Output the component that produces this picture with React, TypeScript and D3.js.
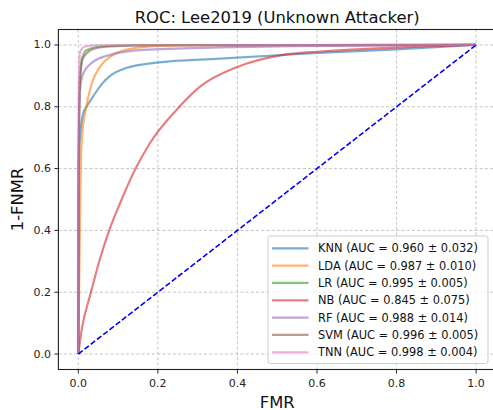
import React from "react";
import * as d3 from "d3";

const W = 493;
const H = 410;

const seriesNames = ["KNN", "LDA", "LR", "NB", "RF", "SVM", "TNN"];
const seriesColors = ["#1f77b4", "#ff7f0e", "#2ca02c", "#d62728", "#9467bd", "#8c564b", "#e377c2"];
const aucLabels = [
  "KNN (AUC = 0.960 ± 0.032)",
  "LDA (AUC = 0.987 ± 0.010)",
  "LR (AUC = 0.995 ± 0.005)",
  "NB (AUC = 0.845 ± 0.075)",
  "RF (AUC = 0.988 ± 0.014)",
  "SVM (AUC = 0.996 ± 0.005)",
  "TNN (AUC = 0.998 ± 0.004)",
];

const knnPts: [number, number][] = [
  [0, 0], [0.001, 0.5], [0.003, 0.68], [0.0126, 0.78], [0.021, 0.8], [0.038, 0.835],
  [0.06, 0.875], [0.08, 0.9], [0.122, 0.926], [0.197, 0.943], [0.356, 0.956],
  [0.6, 0.974], [0.8, 0.986], [1, 1],
];
const ldaPts: [number, number][] = [
  [0, 0], [0.003, 0.3], [0.005, 0.5], [0.007, 0.65], [0.012, 0.74], [0.017, 0.78],
  [0.025, 0.83], [0.034, 0.876], [0.055, 0.93], [0.088, 0.968], [0.138, 0.989],
  [0.205, 0.997], [0.3, 0.999], [1, 1],
];
const lrPts: [number, number][] = [
  [0, 0], [0.001, 0.6], [0.003, 0.86], [0.0085, 0.951], [0.021, 0.984], [0.055, 0.995],
  [0.15, 0.999], [1, 1],
];
const nbPts: [number, number][] = [
  [0, 0], [0.0085, 0.078], [0.031, 0.196], [0.055, 0.31], [0.078, 0.401],
  [0.105, 0.488], [0.142, 0.595], [0.18, 0.682], [0.247, 0.79], [0.306, 0.865],
  [0.398, 0.928], [0.515, 0.968], [0.6, 0.978], [0.808, 0.992], [1, 1],
];
const rfPts: [number, number][] = [
  [0, 0], [0.001, 0.6], [0.004, 0.85], [0.0126, 0.908], [0.038, 0.946], [0.08, 0.968],
  [0.163, 0.984], [0.356, 0.992], [0.54, 0.996], [1, 1],
];
const svmPts: [number, number][] = [
  [0, 0], [0.001, 0.6], [0.004, 0.88], [0.012, 0.958], [0.038, 0.987], [0.08, 0.995],
  [0.2, 0.999], [1, 1],
];
const tnnPts: [number, number][] = [
  [0, 0], [0.001, 0.8], [0.004, 0.974], [0.01, 0.99], [0.017, 0.995], [0.05, 0.999], [1, 1],
];
const allSeries = [knnPts, ldaPts, lrPts, nbPts, rfPts, svmPts, tnnPts];

const tickValues = [0, 0.2, 0.4, 0.6, 0.8, 1.0];
const diagonal: [number, number][] = [[0, 0], [1, 1]];

const titleText = "ROC: Lee2019 (Unknown Attacker)";
const xLabel = "FMR";
const yLabel = "1-FNMR";

export default function App() {
  const left = 58.4, right = 496, top = 29.5, bottom = 369.5;
  const x = d3.scaleLinear().domain([-0.05, 1.05]).range([left, right]);
  const y = d3.scaleLinear().domain([-0.05, 1.05]).range([bottom, top]);
  const line = d3
    .line<[number, number]>()
    .x((d) => x(d[0]))
    .y((d) => y(d[1]))
    .curve(d3.curveMonotoneX);
  const straight = d3
    .line<[number, number]>()
    .x((d) => x(d[0]))
    .y((d) => y(d[1]));
  const fmt = d3.format(".1f");
  const font = "DejaVu Sans, sans-serif";

  const legX = 268, legY = 236, legW = 220, legH = 127.5;
  const row0 = 248.3, rowH = 17.33;

  return (
    <svg
      width={W}
      height={H}
      viewBox={`0 0 ${W} ${H}`}
      style={{ position: "absolute", left: 0, top: 0, background: "#fff" }}
      fontFamily={font}
    >
      <rect x={0} y={0} width={W} height={H} fill="#fff" />
      <defs>
        <clipPath id="plotclip">
          <rect x={left} y={top} width={right - left} height={bottom - top} />
        </clipPath>
      </defs>
      {/* grid */}
      <g stroke="#b0b0b0" strokeWidth={0.8} strokeDasharray="3,2.2" opacity={0.9}>
        {tickValues.map((t) => (
          <line key={"gx" + t} x1={x(t)} x2={x(t)} y1={top} y2={bottom} />
        ))}
        {tickValues.map((t) => (
          <line key={"gy" + t} x1={left} x2={right} y1={y(t)} y2={y(t)} />
        ))}
      </g>
      {/* curves */}
      <g clipPath="url(#plotclip)" fill="none">
        {allSeries.map((pts, i) => (
          <path
            key={seriesNames[i]}
            d={line(pts) || ""}
            stroke={seriesColors[i]}
            strokeOpacity={0.6}
            strokeWidth={2.2}
            strokeLinejoin="round"
            strokeLinecap="butt"
          />
        ))}
        <path
          d={straight(diagonal) || ""}
          stroke="#0000ff"
          strokeWidth={1.6}
          strokeDasharray="5.5,2.4"
        />
      </g>
      {/* spines */}
      <rect
        x={left}
        y={top}
        width={right - left}
        height={bottom - top}
        fill="none"
        stroke="#222"
        strokeWidth={1.1}
      />
      {/* x ticks */}
      {tickValues.map((t) => (
        <g key={"xt" + t}>
          <line x1={x(t)} x2={x(t)} y1={bottom} y2={bottom + 4} stroke="#222" strokeWidth={1} />
          <text x={x(t)} y={bottom + 14} fontSize={11} textAnchor="middle" dominantBaseline="central" fill="#222">
            {fmt(t)}
          </text>
        </g>
      ))}
      {/* y ticks */}
      {tickValues.map((t) => (
        <g key={"yt" + t}>
          <line x1={left - 4} x2={left} y1={y(t)} y2={y(t)} stroke="#222" strokeWidth={1} />
          <text x={left - 7.5} y={y(t)} fontSize={11} textAnchor="end" dominantBaseline="central" fill="#222">
            {fmt(t)}
          </text>
        </g>
      ))}
      {/* labels */}
      <text x={(left + right) / 2} y={402} fontSize={16.4} textAnchor="middle" dominantBaseline="central" fill="#111">
        {xLabel}
      </text>
      <text
        transform={`translate(17.5,${(top + bottom) / 2}) rotate(-90)`}
        fontSize={16.4}
        textAnchor="middle"
        dominantBaseline="central"
        fill="#111"
      >
        {yLabel}
      </text>
      <text x={(left + right) / 2} y={17} fontSize={16.4} textAnchor="middle" dominantBaseline="central" fill="#111">
        {titleText}
      </text>
      {/* legend */}
      <rect
        x={legX}
        y={legY}
        width={legW}
        height={legH}
        rx={2.5}
        fill="#fff"
        fillOpacity={0.8}
        stroke="#cccccc"
        strokeWidth={1}
      />
      {aucLabels.map((lab, i) => (
        <g key={"lg" + i}>
          <line
            x1={272}
            x2={308.5}
            y1={row0 + i * rowH}
            y2={row0 + i * rowH}
            stroke={seriesColors[i]}
            strokeOpacity={0.6}
            strokeWidth={2.2}
          />
          <text x={318} y={row0 + i * rowH} fontSize={11.4} dominantBaseline="central" fill="#111">
            {lab}
          </text>
        </g>
      ))}
    </svg>
  );
}
